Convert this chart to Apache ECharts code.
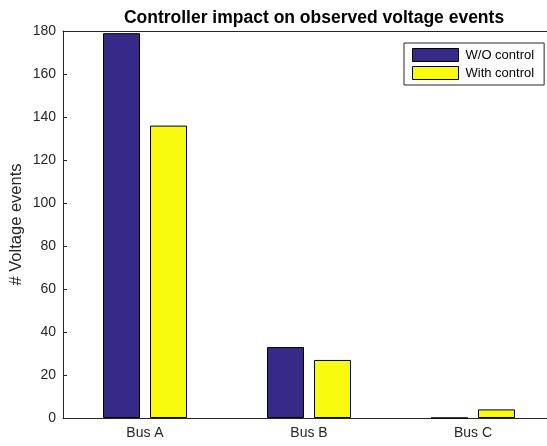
<!DOCTYPE html>
<html>
<head>
<meta charset="utf-8">
<script src="https://cdn.jsdelivr.net/npm/echarts@6/dist/echarts.min.js"></script>
<style>
  html, body { margin: 0; padding: 0; background: #fff; overflow: hidden; }
  #chart { width: 562px; height: 446px; }
</style>
</head>
<body>
<div id="chart"></div>
<script>
// data
const categories = ['Bus A', 'Bus B', 'Bus C'];
const withoutControl = [179, 33, 0];
const withControl = [136, 27, 4];
const yTicks = [0, 20, 40, 60, 80, 100, 120, 140, 160, 180];

let myChart = echarts.init(document.getElementById('chart'), null, { renderer: 'canvas' });

const font = 'Liberation Sans, Arial, sans-serif';
const textColor = '#262626';
const axisColor = '#262626';

myChart.setOption({
  backgroundColor: '#fff',
  animation: false,
  textStyle: { fontFamily: font },
  title: {
    text: 'Controller impact on observed voltage events',
    left: 309,
    textAlign: 'center',
    top: 4,
    textStyle: { fontSize: 17.5, fontWeight: 'bold', color: '#000', fontFamily: font }
  },
  legend: {
    orient: 'vertical',
    left: 404,
    top: 43,
    padding: [5, 10, 5, 8],
    icon: 'rect',
    itemWidth: 46,
    itemHeight: 13,
    itemGap: 4,
    borderColor: '#262626',
    borderWidth: 1,
    backgroundColor: '#fff',
    itemStyle: { borderColor: '#000', borderWidth: 1 },
    textStyle: { fontSize: 13, color: '#000', fontFamily: font, padding: [0, 0, 0, 2] },
    data: ['W/O control', 'With control']
  },
  grid: { left: 63, top: 31, width: 492, height: 387, outerBoundsMode: 'none', containLabel: false },
  xAxis: [{
    type: 'category',
    data: categories,
    position: 'bottom',
    axisLine: { lineStyle: { color: axisColor, width: 1 } },
    axisTick: { inside: true, alignWithLabel: true, length: 4, lineStyle: { color: axisColor } },
    axisLabel: { fontSize: 14, color: textColor, margin: 8, fontFamily: font }
  }, {
    type: 'category',
    data: categories,
    position: 'top',
    axisLine: { lineStyle: { color: axisColor, width: 1 } },
    axisTick: { inside: true, alignWithLabel: true, length: 4, lineStyle: { color: axisColor } },
    axisLabel: { show: false }
  }],
  yAxis: {
    type: 'value',
    min: yTicks[0],
    max: yTicks[yTicks.length - 1],
    interval: 20,
    name: '# Voltage events',
    nameLocation: 'middle',
    nameGap: 38,
    nameMoveOverlap: false,
    nameTextStyle: { fontSize: 16.5, color: textColor, fontFamily: font },
    axisLine: { show: true, lineStyle: { color: axisColor, width: 1 } },
    axisTick: { show: true, inside: true, length: 4, lineStyle: { color: axisColor } },
    axisLabel: { fontSize: 14, color: textColor, margin: 7, fontFamily: font },
    splitLine: { show: false }
  },
  series: [{
    name: 'W/O control',
    type: 'bar',
    data: withoutControl,
    barWidth: 37,
    barGap: '27%',
    itemStyle: { color: '#352a87', borderColor: '#000', borderWidth: 1 }
  }, {
    name: 'With control',
    type: 'bar',
    data: withControl,
    barWidth: 37,
    barGap: '27%',
    itemStyle: { color: '#f9fb0e', borderColor: '#000', borderWidth: 1 }
  }]
});
</script>
</body>
</html>
